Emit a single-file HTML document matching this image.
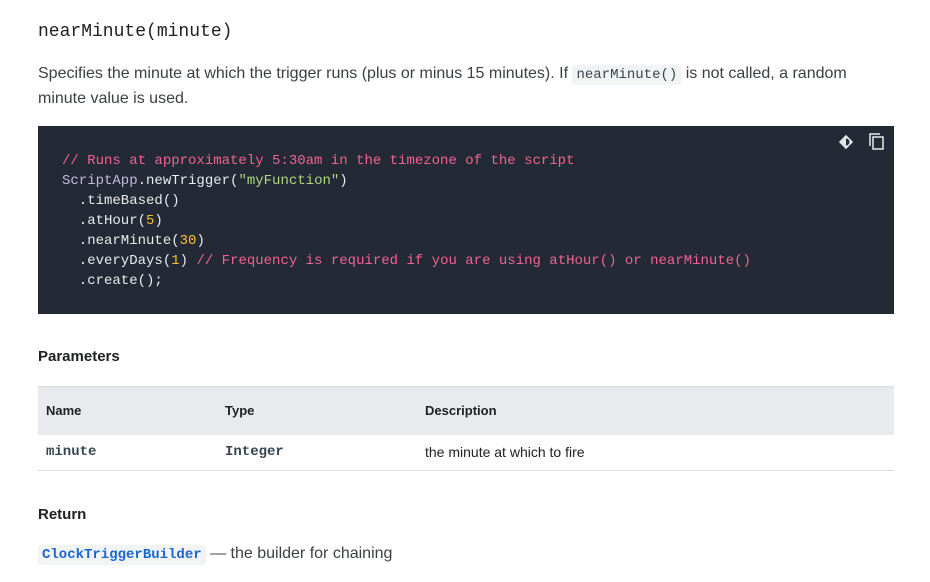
<!DOCTYPE html>
<html><head><style>
body{margin:0;width:930px;height:582px;background:#fff;font-family:"Liberation Sans",sans-serif;color:#202124;position:relative;overflow:hidden}
.a{position:absolute;white-space:nowrap}
.mono{font-family:"Liberation Mono",monospace}
pre{margin:0;font-family:"Liberation Mono",monospace;font-size:14px;line-height:20px;color:#e8eaed;white-space:pre !important}
.c{color:#f06292}.s{color:#aed581}.n{color:#fbc02d}.k{color:#c5b8e0}
.code{background:#f1f3f4;border-radius:3px;padding:2px 4px;font-family:"Liberation Mono",monospace;font-size:14px;color:#37474f}
</style></head><body>
<div class="a mono" style="left:38px;top:20px;font-size:18px;line-height:24px;color:#202124">nearMinute(minute)</div>
<div class="a" style="left:38px;top:62px;font-size:16px;line-height:24px;color:#3c4043">Specifies the minute at which the trigger runs (plus or minus 15 minutes). If <span class="code">nearMinute()</span> is not called, a random<br>minute value is used.</div>
<div class="a" style="left:38px;top:126px;width:856px;height:188px;background:#232a35"></div>
<svg class="a" style="left:836px;top:132px" width="56" height="22"><rect x="5" y="5" width="10" height="10" fill="#e8eaed" transform="rotate(45 10 10)"/><circle cx="10" cy="10" r="3.5" fill="#232a35"/><path d="M10 6.5 A3.5 3.5 0 0 0 10 13.5 Z" fill="#e8eaed"/><rect x="37" y="5" width="10" height="12" fill="none" stroke="#e8eaed" stroke-width="1.5"/><path d="M34 14 V2 H44" fill="none" stroke="#e8eaed" stroke-width="1.5"/></svg>
<pre class="a" style="left:62px;top:151px"><span class="c">// Runs at approximately 5:30am in the timezone of the script</span>
<span class="k">ScriptApp</span>.newTrigger(<span class="s">"myFunction"</span>)
  .timeBased()
  .atHour(<span class="n">5</span>)
  .nearMinute(<span class="n">30</span>)
  .everyDays(<span class="n">1</span>) <span class="c">// Frequency is required if you are using atHour() or nearMinute()</span>
  .create();</pre>
<div class="a" style="left:38px;top:348px;font-size:15px;font-weight:bold;color:#202124">Parameters</div>
<div class="a" style="left:38px;top:386px;width:856px;height:48px;background:#e8eaed;border-top:1px solid #dadce0"></div>
<div class="a" style="left:38px;top:470px;width:856px;height:1px;background:#dadce0"></div>
<div class="a" style="left:46px;top:403px;font-size:13px;font-weight:bold">Name</div>
<div class="a" style="left:225px;top:403px;font-size:13px;font-weight:bold">Type</div>
<div class="a" style="left:425px;top:403px;font-size:13px;font-weight:bold">Description</div>
<div class="a mono" style="left:46px;top:444px;font-size:14px;font-weight:bold;color:#37474f">minute</div>
<div class="a mono" style="left:225px;top:444px;font-size:14px;font-weight:bold;color:#37474f">Integer</div>
<div class="a" style="left:425px;top:444px;font-size:14px">the minute at which to fire</div>
<div class="a" style="left:38px;top:506px;font-size:15px;font-weight:bold">Return</div>
<div class="a" style="left:38px;top:542px;font-size:16px;line-height:24px;color:#3c4043"><span class="code" style="color:#1967d2;font-weight:bold">ClockTriggerBuilder</span> — the builder for chaining</div>
</body></html>
